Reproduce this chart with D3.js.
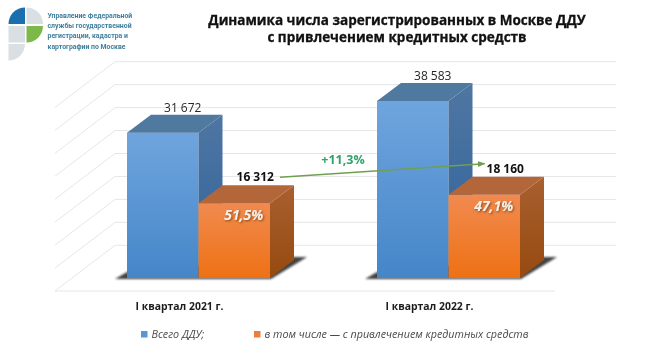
<!DOCTYPE html>
<html>
<head>
<meta charset="utf-8">
<script src="https://cdn.jsdelivr.net/npm/d3@7"></script>
<style>
  html, body { margin: 0; padding: 0; background: #fff; }
  text { font-family: "Open Sans", sans-serif; }
  svg { filter: blur(0.35px); }
</style>
</head>
<body>
<div id="chart"></div>
<script>
const periods = ["I квартал 2021 г.", "I квартал 2022 г."];
const seriesNames = ["Всего ДДУ;", "в том числе — с привлечением кредитных средств"];
const totalValues = [31672, 38583];
const creditValues = [16312, 18160];
const totalLabels = ["31 672", "38 583"];
const creditLabels = ["16 312", "18 160"];
const shareLabels = ["51,5%", "47,1%"];
const gridTicks = [0, 5000, 10000, 15000, 20000, 25000, 30000, 35000, 40000];
const growthLabel = "+11,3%";
const titleLines = ["Динамика числа зарегистрированных в Москве ДДУ", "с привлечением кредитных средств"];
const orgLines = ["Управление Федеральной", "службы государственной", "регистрации, кадастра и", "картографии по Москве"];

const width = 650, height = 352;
const wallX = 115, wallRight = 616, wallBase = 245.3;
const floorX = 55, floorY = 291, floorRight = 555;
const baseY = 278;
const depthX = 24, depthY = 18;

const svg = d3.select("#chart").append("svg")
  .attr("width", width)
  .attr("height", height)
  .style("display", "block");

const defs = svg.append("defs");

function gradient(id, top, bottom) {
  const g = defs.append("linearGradient").attr("id", id)
    .attr("x1", 0).attr("x2", 0).attr("y1", 0).attr("y2", 1);
  g.append("stop").attr("offset", "0%").attr("stop-color", top);
  g.append("stop").attr("offset", "100%").attr("stop-color", bottom);
}
gradient("blueFront", "#6fa5de", "#4586c8");
gradient("blueSide", "#4f76a3", "#2d6299");
gradient("orangeFront", "#f18a50", "#ee7114");
gradient("orangeSide", "#a9602f", "#964a10");

defs.append("filter").attr("id", "shadowBlur")
  .attr("x", "-20%").attr("y", "-50%").attr("width", "140%").attr("height", "200%")
  .append("feGaussianBlur").attr("stdDeviation", 1.1);

const textShadow = defs.append("filter").attr("id", "textShadow");
textShadow.append("feDropShadow")
  .attr("dx", 1).attr("dy", 1).attr("stdDeviation", 1)
  .attr("flood-color", "#7a3a10").attr("flood-opacity", 0.9);

// scales
const y = d3.scaleLinear().domain([0, 40000]).range([0, 183.6]);
const x0 = d3.scaleBand().domain(periods).range([127, 520]).paddingInner(0.428).paddingOuter(0);
const x1 = d3.scaleBand().domain([0, 1]).range([0, x0.bandwidth()]);

// walls
const grid = svg.append("g")
  .attr("fill", "none")
  .attr("stroke", "#e6e6e6")
  .attr("stroke-width", 1);

grid.selectAll("path.wall")
  .data(gridTicks)
  .enter()
  .append("path")
  .attr("class", "wall")
  .attr("d", d => {
    const yy = wallBase - y(d);
    return `M${floorX},${yy + floorY - wallBase}L${wallX},${yy}L${wallRight},${yy}`;
  });

grid.append("line")
  .attr("x1", floorX).attr("x2", floorRight)
  .attr("y1", floorY).attr("y2", floorY);

// floor shadow, one per period, under both bars
svg.selectAll("path.shadow")
  .data(periods)
  .enter()
  .append("path")
  .attr("class", "shadow")
  .attr("d", p => {
    const left = x0(p), right = x0(p) + x0.bandwidth();
    return `M${left - 12},${baseY + 1}L${right + 1},${baseY + 1}L${right + depthX + 13},${baseY - depthY - 3}L${right + depthX},${baseY - depthY - 3}L${left},${baseY - 6}Z`;
  })
  .attr("fill", "#2e2e2e")
  .attr("opacity", 0.9)
  .attr("filter", "url(#shadowBlur)");

// bars
function drawBar(group, xLeft, value, front, side, topFill) {
  const w = x1.bandwidth();
  const yTop = baseY - y(value);
  const xRight = xLeft + w;

  group.append("rect")
    .attr("x", xLeft).attr("y", yTop)
    .attr("width", w).attr("height", baseY - yTop)
    .attr("fill", `url(#${front})`);

  group.append("path")
    .attr("d", `M${xRight},${yTop}L${xRight + depthX},${yTop - depthY}L${xRight + depthX},${baseY - depthY}L${xRight},${baseY}Z`)
    .attr("fill", `url(#${side})`);

  group.append("path")
    .attr("d", `M${xLeft},${yTop}L${xLeft + depthX},${yTop - depthY}L${xRight + depthX},${yTop - depthY}L${xRight},${yTop}Z`)
    .attr("fill", topFill);
}

periods.forEach((p, i) => {
  const g = svg.append("g");
  drawBar(g, x0(p) + x1(0), totalValues[i], "blueFront", "blueSide", "#50799f");
  drawBar(g, x0(p) + x1(1), creditValues[i], "orangeFront", "orangeSide", "#b4663b");
  g.append("line")
    .attr("x1", x0(p)).attr("x2", x0(p) + x0.bandwidth())
    .attr("y1", baseY + 0.5).attr("y2", baseY + 0.5)
    .attr("stroke", "#8d8d8d");
});

// value labels
svg.selectAll("text.total")
  .data(periods)
  .enter()
  .append("text")
  .attr("class", "total")
  .attr("x", p => x0(p) + x1(0) + x1.bandwidth() / 2 + 20)
  .attr("y", (p, i) => baseY - y(totalValues[i]) - depthY - 2.5)
  .attr("text-anchor", "middle")
  .attr("font-size", 12)
  .attr("fill", "#262626")
  .text((p, i) => totalLabels[i]);

svg.selectAll("text.credit")
  .data(periods)
  .enter()
  .append("text")
  .attr("class", "credit")
  .attr("x", p => x0(p) + x1(1) + x1.bandwidth() / 2 + 21)
  .attr("y", (p, i) => baseY - y(creditValues[i]) - depthY - 4)
  .attr("text-anchor", "middle")
  .attr("font-size", 12)
  .attr("font-weight", 700)
  .attr("fill", "#111")
  .text((p, i) => creditLabels[i]);

svg.selectAll("text.share")
  .data(periods)
  .enter()
  .append("text")
  .attr("class", "share")
  .attr("x", p => x0(p) + x1(1) + x1.bandwidth() / 2 + 9.5)
  .attr("y", (p, i) => baseY - y(creditValues[i]) + 16.5)
  .attr("text-anchor", "middle")
  .attr("font-size", 14)
  .attr("font-weight", 700)
  .attr("font-style", "italic")
  .attr("fill", "#f6f1e8")
  .attr("filter", "url(#textShadow)")
  .text((p, i) => shareLabels[i]);

// growth arrow
const arrowColor = "#6f9f52";
const arrowHead = defs.append("marker").attr("id", "arrowHead")
  .attr("viewBox", "0 0 8 8").attr("refX", 7).attr("refY", 4)
  .attr("markerWidth", 5).attr("markerHeight", 5)
  .attr("orient", "auto");
arrowHead.append("path").attr("d", "M0,1L8,4L0,7Z").attr("fill", arrowColor);

const arrowY = (i, gap) => baseY - y(creditValues[i]) - depthY - gap;
svg.append("line")
  .attr("x1", x0(periods[0]) + x0.bandwidth() + 10)
  .attr("y1", arrowY(0, 8))
  .attr("x2", x0(periods[1]) + x1(1) + 36)
  .attr("y2", arrowY(1, 13))
  .attr("stroke", arrowColor)
  .attr("stroke-width", 1.5)
  .attr("marker-end", "url(#arrowHead)");

svg.append("text")
  .attr("x", 343).attr("y", 163.5)
  .attr("text-anchor", "middle")
  .attr("font-size", 12.5)
  .attr("font-weight", 700)
  .attr("fill", "#2fa36b")
  .text(growthLabel);

// category labels
svg.selectAll("text.period")
  .data(periods)
  .enter()
  .append("text")
  .attr("class", "period")
  .attr("x", p => x0(p) + x0.bandwidth() / 2 - 19)
  .attr("y", 310)
  .attr("text-anchor", "middle")
  .attr("font-size", 10.4)
  .attr("font-weight", 700)
  .attr("fill", "#1c1c1c")
  .text(p => p);

// legend
const legendX = [141, 254];
const legendColors = ["#5b96d2", "#ec7d3a"];
const legend = svg.selectAll("g.legend")
  .data(seriesNames)
  .enter()
  .append("g")
  .attr("class", "legend")
  .attr("transform", (d, i) => `translate(${legendX[i]},336)`);
legend.append("rect")
  .attr("y", -5).attr("width", 6.5).attr("height", 6.5)
  .attr("fill", (d, i) => legendColors[i]);
legend.append("text")
  .attr("x", 10.5).attr("y", 1.5)
  .attr("font-size", 10.75)
  .attr("font-style", "italic")
  .attr("fill", "#4a4a4a")
  .text(d => d);

// title
svg.selectAll("text.title")
  .data(titleLines)
  .enter()
  .append("text")
  .attr("class", "title")
  .attr("x", 397)
  .attr("y", (d, i) => 25 + i * 16.5)
  .attr("text-anchor", "middle")
  .attr("font-size", 13.5)
  .attr("font-weight", 700)
  .attr("fill", "#111")
  .attr("stroke", "#111")
  .attr("stroke-width", 0.3)
  .text(d => d);

// logo
const logo = svg.append("g");
const logoCells = [
  { x: 8.5, y: 7.5, fill: "#1c6fae", r: [16.5, 0, 0] },
  { x: 26.5, y: 7.5, fill: "#d9dfe3", r: [0, 16.5, 0] },
  { x: 8.5, y: 26, fill: "#d9dfe3", r: [0, 0, 0] },
  { x: 26.5, y: 26, fill: "#7db84a", r: [0, 0, 16.5] },
  { x: 8.5, y: 44, fill: "#d9dfe3", r: [0, 0, 16.5] }
];
logo.selectAll("path")
  .data(logoCells)
  .enter()
  .append("path")
  .attr("fill", d => d.fill)
  .attr("d", d => {
    const s = 16.5, [a, b, c] = d.r;
    return `M${d.x},${d.y + a}A${a},${a} 0 0 1 ${d.x + a},${d.y}L${d.x + s - b},${d.y}A${b},${b} 0 0 1 ${d.x + s},${d.y + b}L${d.x + s},${d.y + s - c}A${c},${c} 0 0 1 ${d.x + s - c},${d.y + s}L${d.x},${d.y + s}Z`;
  });

svg.selectAll("text.org")
  .data(orgLines)
  .enter()
  .append("text")
  .attr("class", "org")
  .attr("x", 47.5)
  .attr("y", (d, i) => 17.8 + i * 10.3)
  .style("font-family", "Roboto, sans-serif")
  .attr("font-size", 6.9)
  .attr("font-weight", 700)
  .attr("fill", "#3f7f9e")
  .text(d => d);
</script>
</body>
</html>
